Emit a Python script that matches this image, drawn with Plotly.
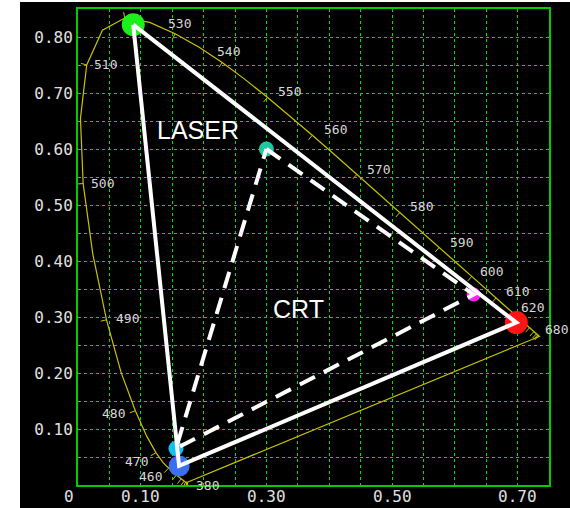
import numpy as np
import plotly.graph_objects as go

# ---- spectral locus (CIE 1931 chromaticity) ----
wavelengths = [380, 385, 390, 395, 400, 405, 410, 415, 420, 425, 430, 435, 440, 445,
               450, 455, 460, 465, 470, 475, 480, 485, 490, 495, 500, 505, 510, 515,
               520, 525, 530, 535, 540, 545, 550, 555, 560, 565, 570, 575, 580, 585,
               590, 595, 600, 605, 610, 615, 620, 625, 630, 635, 640, 645, 650, 660,
               670, 680, 700]
locus_x = [0.1741, 0.1740, 0.1738, 0.1736, 0.1733, 0.1730, 0.1726, 0.1721, 0.1714, 0.1703,
           0.1689, 0.1669, 0.1644, 0.1611, 0.1566, 0.1510, 0.1440, 0.1355, 0.1241, 0.1096,
           0.0913, 0.0687, 0.0454, 0.0235, 0.0082, 0.0039, 0.0139, 0.0389, 0.0743, 0.1142,
           0.1547, 0.1929, 0.2296, 0.2658, 0.3016, 0.3373, 0.3731, 0.4087, 0.4441, 0.4788,
           0.5125, 0.5448, 0.5752, 0.6029, 0.6270, 0.6482, 0.6658, 0.6801, 0.6915, 0.7006,
           0.7079, 0.7140, 0.7190, 0.7230, 0.7260, 0.7300, 0.7320, 0.7334, 0.7347]
locus_y = [0.0050, 0.0050, 0.0049, 0.0049, 0.0048, 0.0048, 0.0048, 0.0048, 0.0051, 0.0058,
           0.0069, 0.0086, 0.0109, 0.0138, 0.0177, 0.0227, 0.0297, 0.0399, 0.0578, 0.0868,
           0.1327, 0.2007, 0.2950, 0.4127, 0.5384, 0.6548, 0.7502, 0.8120, 0.8338, 0.8262,
           0.8059, 0.7816, 0.7543, 0.7243, 0.6923, 0.6589, 0.6245, 0.5896, 0.5547, 0.5202,
           0.4866, 0.4544, 0.4242, 0.3965, 0.3725, 0.3514, 0.3340, 0.3197, 0.3083, 0.2993,
           0.2920, 0.2859, 0.2809, 0.2770, 0.2740, 0.2700, 0.2680, 0.2666, 0.2653]

labelled_wavelengths = [380, 460, 470, 480, 490, 500, 510, 530, 540, 550, 560, 570,
                        580, 590, 600, 610, 620, 680]

# ---- primaries ----
laser_x = [0.088, 0.698, 0.161]
laser_y = [0.822, 0.290, 0.034]
crt_x = [0.300, 0.630, 0.156]
crt_y = [0.600, 0.340, 0.065]

x_tick_vals = [0.1, 0.3, 0.5, 0.7]
x_tick_text = ["0.10", "0.30", "0.50", "0.70"]
y_tick_vals = [0.1, 0.2, 0.3, 0.4, 0.5, 0.6, 0.7, 0.8]
y_tick_text = ["0.10", "0.20", "0.30", "0.40", "0.50", "0.60", "0.70", "0.80"]

# ---- styling / layout constants ----
W, H = 570, 508
ML, MR, MT, MB = 78, 21, 9, 23
XR, YR = [0, 0.75], [0, 0.85]
SX = (W - ML - MR) / (XR[1] - XR[0])
SY = (H - MT - MB) / (YR[1] - YR[0])

# label offsets in pixels (right, down) relative to locus point
label_offsets = {380: (20, 3), 460: (-18, 8), 470: (-19, 9), 480: (-22, 3), 490: (21, -1),
                 500: (19, 0), 510: (19, 0), 530: (4, -10), 540: (6, -11), 550: (22, -6),
                 560: (23, -6), 570: (22, -5), 580: (22, -6), 590: (22, -5), 600: (20, -5),
                 610: (21, -6), 620: (20, -5), 680: (18, -6)}

fig = go.Figure()

# spectral locus closed with the purple line
fig.add_trace(go.Scatter(x=locus_x + [locus_x[0]], y=locus_y + [locus_y[0]], mode="lines",
                         line=dict(color="#c8c400", width=1.2), hoverinfo="skip",
                         showlegend=False))

# tick marks along the locus
tx, ty = [], []
wp = (0.3333, 0.3333)
for lam in range(380, 690, 10):
    if lam not in wavelengths:
        continue
    i = wavelengths.index(lam)
    i0, i1 = max(i - 1, 0), min(i + 1, len(wavelengths) - 1)
    dx = (locus_x[i1] - locus_x[i0]) * SX
    dy = (locus_y[i1] - locus_y[i0]) * SY
    n = np.array([-dy, dx])
    n = n / (np.hypot(*n) + 1e-9)
    v = np.array([(locus_x[i] - wp[0]) * SX, (locus_y[i] - wp[1]) * SY])
    if np.dot(n, v) < 0:
        n = -n
    if lam > 520:
        n = -n
    L = 6
    tx += [locus_x[i], locus_x[i] + L * n[0] / SX, None]
    ty += [locus_y[i], locus_y[i] + L * n[1] / SY, None]
fig.add_trace(go.Scatter(x=tx, y=ty, mode="lines", line=dict(color="#c8c400", width=1),
                         hoverinfo="skip", showlegend=False))

# primary markers (drawn below the triangle lines)
fig.add_trace(go.Scatter(x=laser_x, y=laser_y, mode="markers",
                         marker=dict(size=[23, 23, 21], color=["#1cf01c", "#ff1414", "#3c6ef0"],
                                     opacity=1, line=dict(width=0)),
                         hoverinfo="skip", showlegend=False))
fig.add_trace(go.Scatter(x=crt_x, y=crt_y, mode="markers",
                         marker=dict(size=[15, 14, 15], color=["#1ec8a0", "#ff22ff", "#10c0f0"],
                                     opacity=1, line=dict(width=0)),
                         hoverinfo="skip", showlegend=False))

# laser gamut (solid)
fig.add_trace(go.Scatter(x=laser_x + [laser_x[0]], y=laser_y + [laser_y[0]], mode="lines",
                         line=dict(color="white", width=4), hoverinfo="skip", showlegend=False))
# CRT gamut (dashed)
fig.add_trace(go.Scatter(x=crt_x + [crt_x[0]], y=crt_y + [crt_y[0]], mode="lines",
                         line=dict(color="white", width=4, dash="17px,10px"),
                         hoverinfo="skip", showlegend=False))

tick_font = dict(family="DejaVu Sans Mono", size=16, color="#e0e0e0")
annotations = []
for lam in labelled_wavelengths:
    i = wavelengths.index(lam)
    ox, oy = label_offsets[lam]
    annotations.append(dict(x=locus_x[i], y=locus_y[i], xref="x", yref="y", text=str(lam),
                            showarrow=False, xshift=ox, yshift=-oy,
                            font=dict(family="DejaVu Sans Mono", size=13, color="#d8d8d8"),
                            xanchor="center", yanchor="middle"))
annotations.append(dict(x=0.191, y=0.634, xref="x", yref="y", text="LASER", showarrow=False,
                        font=dict(family="Liberation Sans, Arial", size=25, color="white")))
annotations.append(dict(x=0.351, y=0.315, xref="x", yref="y", text="CRT", showarrow=False,
                        font=dict(family="Liberation Sans, Arial", size=25, color="white")))
# x-axis tick labels (placed as text just below the frame)
for v, t in zip(x_tick_vals, x_tick_text):
    annotations.append(dict(x=v, y=0, xref="x", yref="paper", text=t, showarrow=False,
                            yshift=-11, xanchor="center", yanchor="middle", font=tick_font))
annotations.append(dict(x=0, y=0, xref="paper", yref="paper", text="0", showarrow=False,
                        xshift=-9.5, yshift=-11, xanchor="center", yanchor="middle",
                        font=tick_font))

pw, ph = W - ML - MR, H - MT - MB
bg_rect = dict(type="rect", xref="paper", yref="paper",
               x0=(20 - ML) / pw, x1=(W - ML) / pw,
               y0=-(MB) / ph, y1=(H - MB - 2) / ph,
               fillcolor="black", line=dict(width=0), layer="below")

grid = dict(showgrid=True, gridcolor="#00dd00", griddash="dot", gridwidth=1)
axis_common = dict(showline=True, mirror=True, linecolor="#00cc00", linewidth=2,
                   zeroline=False, ticks="", automargin=False, tickfont=tick_font, **grid)

fig.update_layout(
    width=W, height=H, autosize=False,
    margin=dict(l=ML, r=MR, t=MT, b=MB, pad=0),
    paper_bgcolor="white", plot_bgcolor="black",
    shapes=[bg_rect], annotations=annotations, showlegend=False,
    xaxis=dict(range=XR, tickvals=x_tick_vals, ticktext=x_tick_text, showticklabels=False,
               minor=dict(tick0=0, dtick=0.05, **grid), **axis_common),
    yaxis=dict(range=YR, tickvals=y_tick_vals, ticktext=y_tick_text,
               minor=dict(tick0=0, dtick=0.05, **grid), **axis_common),
)

fig.write_html("out.html", config={"displayModeBar": False},
               post_script="document.body.style.margin='0px';document.body.style.overflow='hidden';")
